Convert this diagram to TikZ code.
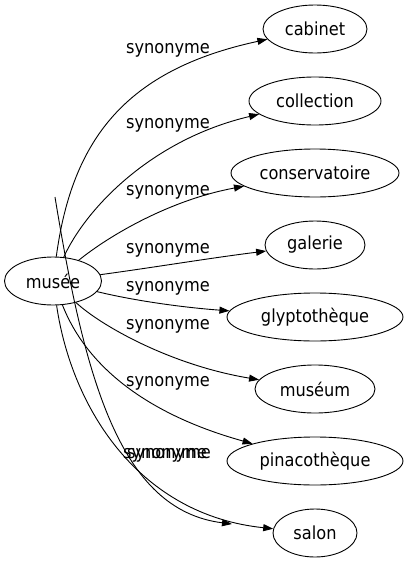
\documentclass[tikz,border=0pt]{standalone}
\usepackage{fontspec}
\setmainfont{DejaVu Sans}[FakeStretch=0.9]
\usetikzlibrary{shapes.geometric,arrows.meta}
\begin{document}
\begin{tikzpicture}[x=1pt,y=-1pt,
  word/.style={draw, ellipse, line width=0.9pt, inner sep=0pt, minimum height=48pt, font=\fontsize{18}{20}\selectfont},
  lbl/.style={font=\fontsize{18}{20}\selectfont, inner sep=0pt},
  edge/.style={line width=0.9pt, -{Triangle[length=10pt,width=7pt]}}]
\useasboundingbox (0,0) rectangle (409,563);
\node[word, minimum width=97pt] (musee) at (53,281) {musée};
\node[word, minimum width=104pt] (cabinet) at (315,29) {cabinet};
\node[word, minimum width=132pt] (collection) at (315,101) {collection};
\node[word, minimum width=168pt] (conservatoire) at (315,173) {conservatoire};
\node[word, minimum width=100pt] (galerie) at (315,245) {galerie};
\node[word, minimum width=176pt] (glypto) at (315,317) {glyptothèque};
\node[word, minimum width=120pt] (museum) at (315,389) {muséum};
\node[word, minimum width=176pt] (pinaco) at (315,461) {pinacothèque};
\node[word, minimum width=84pt] (salon) at (315,533) {salon};
\coordinate (sbstart) at (55,197);
\coordinate (sbend) at (232,524);
% edges
\draw[edge] (musee) .. controls (72,140) and (125,70) .. (cabinet);
\draw[edge] (musee) .. controls (85,210) and (150,140) .. (collection);
\draw[edge] (musee) .. controls (110,235) and (170,200) .. (conservatoire);
\draw[edge] (musee) .. controls (150,268) and (210,258) .. (galerie);
\draw[edge] (musee) .. controls (140,302) and (190,308) .. (glypto);
\draw[edge] (musee) .. controls (100,325) and (170,365) .. (museum);
\draw[edge] (musee) .. controls (90,375) and (160,418) .. (pinaco);
\draw[edge] (musee) .. controls (72,410) and (140,515) .. (salon);
\draw[edge] (sbstart) .. controls (85,380) and (120,510) .. (sbend);
% labels
\node[lbl] (l1) at (168,50) {synonyme};
\node[lbl] (l2) at (168,125) {synonyme};
\node[lbl] (l3) at (168,192) {synonyme};
\node[lbl] (l4) at (168,250) {synonyme};
\node[lbl] (l5) at (168,288) {synonyme};
\node[lbl] (l6) at (168,326) {synonyme};
\node[lbl] (l7) at (168,383) {synonyme};
\node[lbl] (l8) at (165,455) {synonyme};
\node[lbl] (l9) at (169,455) {synonyme};
\end{tikzpicture}
\end{document}
